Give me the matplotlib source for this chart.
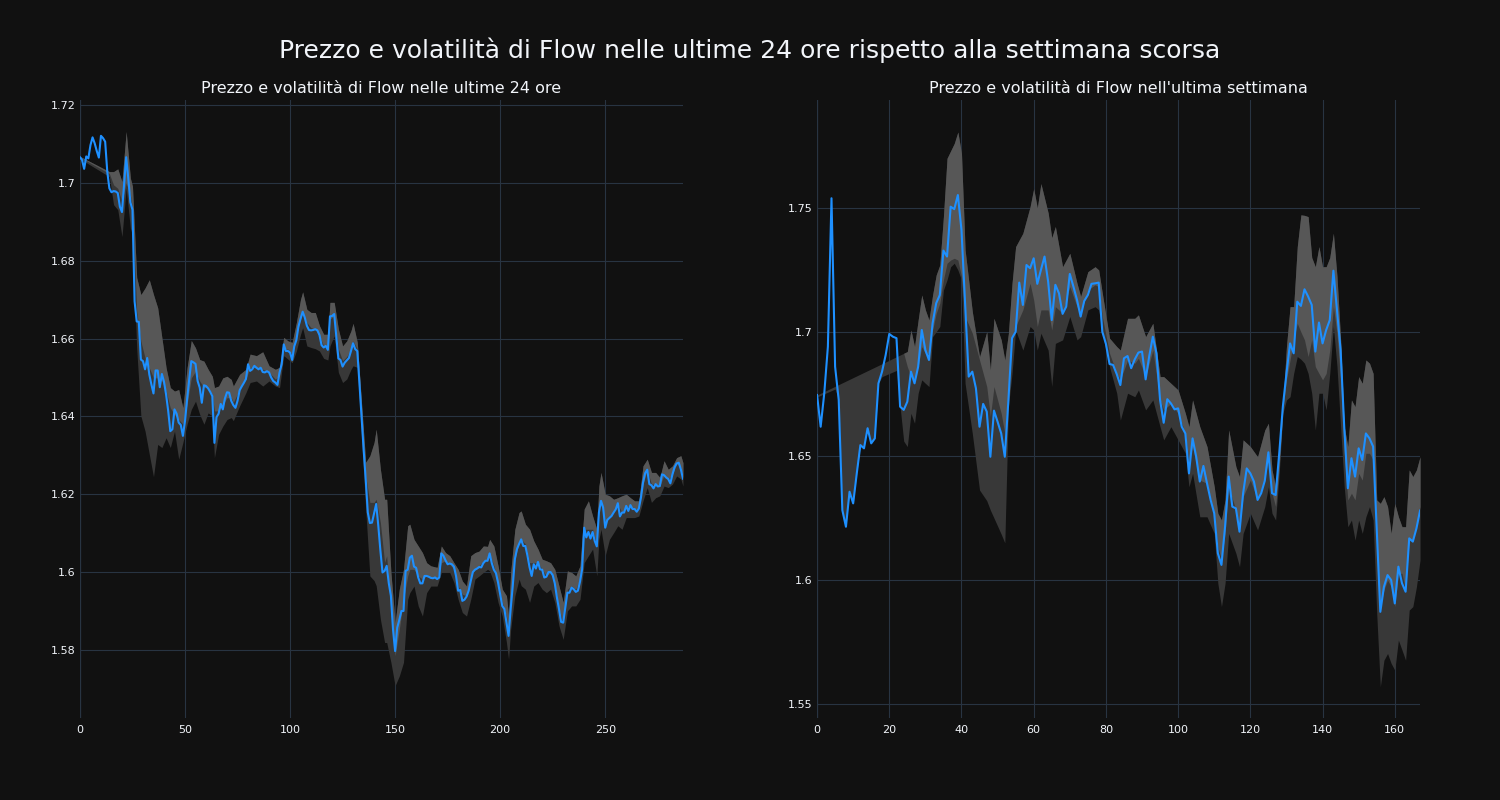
import numpy as np
import matplotlib
matplotlib.use("Agg")
from matplotlib import pyplot as plt
from matplotlib.ticker import FuncFormatter, MultipleLocator

# ---------------------------------------------------------------------------
# Data
# ---------------------------------------------------------------------------

# last 24 hours: one price every 5 minutes (288 points)
left_price = [
    1.7066, 1.7059, 1.7036, 1.7068, 1.7063, 1.7097, 1.7117, 1.7102, 1.7082, 1.7065,
    1.7121, 1.7115, 1.7106, 1.7029, 1.6986, 1.6976, 1.6979, 1.6978, 1.6974, 1.6939,
    1.6925, 1.6995, 1.7066, 1.7012, 1.6950, 1.6931, 1.6696, 1.6644, 1.6643, 1.6546,
    1.6542, 1.6521, 1.6550, 1.6508, 1.6482, 1.6459, 1.6518, 1.6518, 1.6475, 1.6509,
    1.6489, 1.6456, 1.6414, 1.6362, 1.6367, 1.6418, 1.6407, 1.6384, 1.6378, 1.6350,
    1.6388, 1.6444, 1.6495, 1.6542, 1.6539, 1.6535, 1.6491, 1.6474, 1.6435, 1.6480,
    1.6478, 1.6472, 1.6463, 1.6452, 1.6332, 1.6398, 1.6407, 1.6432, 1.6418, 1.6446,
    1.6462, 1.6461, 1.6440, 1.6429, 1.6422, 1.6440, 1.6467, 1.6477, 1.6486, 1.6496,
    1.6534, 1.6517, 1.6521, 1.6530, 1.6525, 1.6521, 1.6525, 1.6514, 1.6513, 1.6516,
    1.6513, 1.6500, 1.6491, 1.6487, 1.6481, 1.6513, 1.6534, 1.6585, 1.6568, 1.6568,
    1.6564, 1.6545, 1.6580, 1.6596, 1.6631, 1.6651, 1.6669, 1.6654, 1.6633, 1.6622,
    1.6621, 1.6622, 1.6624, 1.6621, 1.6609, 1.6583, 1.6577, 1.6581, 1.6571, 1.6657,
    1.6658, 1.6663, 1.6607, 1.6549, 1.6545, 1.6528, 1.6538, 1.6544, 1.6550, 1.6568,
    1.6588, 1.6573, 1.6568, 1.6487, 1.6401, 1.6316, 1.6239, 1.6153, 1.6126, 1.6127,
    1.6151, 1.6175, 1.6119, 1.6055, 1.5999, 1.6003, 1.6016, 1.5971, 1.5939, 1.5853,
    1.5797, 1.5857, 1.5877, 1.5900, 1.5900, 1.6003, 1.6006, 1.6037, 1.6042, 1.6014,
    1.6011, 1.5986, 1.5971, 1.5971, 1.5990, 1.5990, 1.5988, 1.5985, 1.5984, 1.5986,
    1.5982, 1.5986, 1.6048, 1.6042, 1.6030, 1.6020, 1.6022, 1.6020, 1.6014, 1.5990,
    1.5952, 1.5954, 1.5926, 1.5929, 1.5937, 1.5952, 1.5977, 1.6000, 1.6006, 1.6009,
    1.6013, 1.6012, 1.6023, 1.6029, 1.6029, 1.6048, 1.6023, 1.6006, 1.5997, 1.5973,
    1.5943, 1.5913, 1.5905, 1.5870, 1.5836, 1.5905, 1.5965, 1.6033, 1.6059, 1.6072,
    1.6084, 1.6067, 1.6067, 1.6042, 1.6012, 1.5990, 1.6020, 1.6009, 1.6026, 1.6007,
    1.6006, 1.5986, 1.5988, 1.6000, 1.6000, 1.5992, 1.5971, 1.5935, 1.5905, 1.5872,
    1.5870, 1.5909, 1.5947, 1.5947, 1.5960, 1.5956, 1.5949, 1.5952, 1.5975, 1.6007,
    1.6114, 1.6089, 1.6103, 1.6086, 1.6103, 1.6080, 1.6066, 1.6153, 1.6183, 1.6166,
    1.6114, 1.6134, 1.6139, 1.6144, 1.6153, 1.6161, 1.6177, 1.6143, 1.6153, 1.6153,
    1.6170, 1.6157, 1.6172, 1.6162, 1.6162, 1.6155, 1.6163, 1.6191, 1.6230, 1.6254,
    1.6263, 1.6226, 1.6223, 1.6215, 1.6226, 1.6220, 1.6221, 1.6251, 1.6249, 1.6243,
    1.6239, 1.6228, 1.6251, 1.6269, 1.6279, 1.6281, 1.6264, 1.6240,
]

# volatility band (upper / middle / lower) of the 24h chart
left_band_x = [
    0, 14, 16, 18, 20, 22, 24, 25, 27, 29, 31, 33, 35, 37, 39, 41, 43, 45, 47, 49,
    51, 53, 55, 57, 59, 61, 63, 64, 66, 68, 70, 72, 73, 76, 79, 81, 84, 87, 90, 93,
    95, 97, 99, 101, 103, 105, 106, 108, 110, 112, 114, 116, 118, 119, 121, 123, 125, 127, 129, 130,
    132, 134, 136, 138, 140, 141, 143, 145, 146, 148, 150, 152, 154, 156, 157, 159, 161, 163, 165, 167,
    170, 172, 174, 176, 178, 180, 182, 184, 186, 188, 190, 192, 194, 195, 197, 199, 201, 203, 204, 205,
    207, 209, 210, 212, 214, 216, 218, 220, 222, 224, 226, 228, 230, 232, 234, 236, 238, 240, 242, 244,
    246, 247, 248, 250, 252, 254, 256, 258, 260, 262, 264, 266, 268, 270, 272, 274, 276, 278, 280, 282,
    284, 286, 287,
]
left_upper = [
    1.7068, 1.7029, 1.7029, 1.7036, 1.7003, 1.7132, 1.7012, 1.6991, 1.6757, 1.6713,
    1.6730, 1.6751, 1.6713, 1.6679, 1.6602, 1.6525, 1.6474, 1.6465, 1.6469, 1.6422,
    1.6525, 1.6595, 1.6576, 1.6546, 1.6542, 1.6521, 1.6503, 1.6474, 1.6478, 1.6499,
    1.6503, 1.6495, 1.6478, 1.6508, 1.6521, 1.6560, 1.6556, 1.6566, 1.6530, 1.6521,
    1.6526, 1.6603, 1.6594, 1.6590, 1.6641, 1.6701, 1.6720, 1.6675, 1.6667, 1.6667,
    1.6633, 1.6611, 1.6611, 1.6693, 1.6693, 1.6624, 1.6581, 1.6594, 1.6620, 1.6639,
    1.6590, 1.6436, 1.6282, 1.6299, 1.6333, 1.6367, 1.6264, 1.6187, 1.6187, 1.5999,
    1.5870, 1.5956, 1.6007, 1.6119, 1.6123, 1.6084, 1.6067, 1.6050, 1.6024, 1.6016,
    1.6012, 1.6067, 1.6050, 1.6042, 1.6024, 1.6007, 1.5977, 1.5964, 1.6042, 1.6050,
    1.6054, 1.6067, 1.6066, 1.6084, 1.6067, 1.6016, 1.5956, 1.5939, 1.5887, 1.5999,
    1.6110, 1.6153, 1.6157, 1.6123, 1.6110, 1.6080, 1.6059, 1.6033, 1.6029, 1.6024,
    1.6007, 1.5964, 1.5922, 1.6003, 1.5999, 1.5990, 1.6016, 1.6162, 1.6183, 1.6144,
    1.6110, 1.6221, 1.6256, 1.6200, 1.6196, 1.6187, 1.6191, 1.6196, 1.6200, 1.6191,
    1.6183, 1.6183, 1.6273, 1.6290, 1.6256, 1.6256, 1.6243, 1.6286, 1.6264, 1.6273,
    1.6294, 1.6299, 1.6281,
]
left_mid = [
    1.7066, 1.7024, 1.6995, 1.6986, 1.6952, 1.7000, 1.6969, 1.6935, 1.6670, 1.6593,
    1.6550, 1.6525, 1.6499, 1.6499, 1.6491, 1.6465, 1.6422, 1.6405, 1.6392, 1.6380,
    1.6431, 1.6499, 1.6516, 1.6491, 1.6474, 1.6474, 1.6456, 1.6414, 1.6414, 1.6431,
    1.6448, 1.6448, 1.6436, 1.6470, 1.6496, 1.6526, 1.6526, 1.6521, 1.6513, 1.6496,
    1.6504, 1.6573, 1.6573, 1.6560, 1.6607, 1.6650, 1.6667, 1.6641, 1.6628, 1.6624,
    1.6607, 1.6581, 1.6577, 1.6650, 1.6658, 1.6573, 1.6543, 1.6554, 1.6573, 1.6594,
    1.6573, 1.6401, 1.6247, 1.6179, 1.6179, 1.6187, 1.6127, 1.6025, 1.6042, 1.5896,
    1.5785, 1.5853, 1.5930, 1.5990, 1.6007, 1.6007, 1.5990, 1.5982, 1.5990, 1.5986,
    1.5986, 1.6024, 1.6029, 1.6020, 1.6007, 1.5964, 1.5943, 1.5939, 1.5990, 1.6007,
    1.6016, 1.6029, 1.6033, 1.6046, 1.6016, 1.5973, 1.5922, 1.5887, 1.5845, 1.5922,
    1.6033, 1.6076, 1.6084, 1.6072, 1.6024, 1.6024, 1.6024, 1.6007, 1.5990, 1.5999,
    1.5973, 1.5905, 1.5870, 1.5956, 1.5964, 1.5956, 1.5982, 1.6110, 1.6110, 1.6110,
    1.6067, 1.6161, 1.6183, 1.6127, 1.6140, 1.6153, 1.6174, 1.6153, 1.6168, 1.6170,
    1.6162, 1.6163, 1.6226, 1.6263, 1.6226, 1.6226, 1.6221, 1.6249, 1.6239, 1.6251,
    1.6279, 1.6269, 1.6240,
]
left_lower = [
    1.7062, 1.7016, 1.6944, 1.6931, 1.6862, 1.6986, 1.6884, 1.6867, 1.6576, 1.6401,
    1.6362, 1.6303, 1.6245, 1.6328, 1.6320, 1.6345, 1.6320, 1.6362, 1.6290, 1.6333,
    1.6380, 1.6418, 1.6439, 1.6405, 1.6380, 1.6409, 1.6401, 1.6294, 1.6354, 1.6375,
    1.6392, 1.6397, 1.6389, 1.6427, 1.6461, 1.6487, 1.6491, 1.6478, 1.6491, 1.6478,
    1.6474, 1.6556, 1.6547, 1.6538, 1.6568, 1.6611, 1.6628, 1.6581, 1.6577, 1.6574,
    1.6568, 1.6549, 1.6545, 1.6581, 1.6607, 1.6513, 1.6487, 1.6496, 1.6521, 1.6530,
    1.6526, 1.6350, 1.6162, 1.5990, 1.5978, 1.5965, 1.5879, 1.5819, 1.5819, 1.5768,
    1.5708, 1.5733, 1.5768, 1.5930, 1.5947, 1.5964, 1.5913, 1.5887, 1.5947, 1.5964,
    1.5964, 1.5999, 1.5999, 1.5999, 1.5973, 1.5930, 1.5896, 1.5887, 1.5930, 1.5982,
    1.5990, 1.5999, 1.6007, 1.6003, 1.5973, 1.5922, 1.5887, 1.5819, 1.5776, 1.5853,
    1.5939, 1.5982, 1.5965, 1.5956, 1.5922, 1.5964, 1.5973, 1.5956, 1.5947, 1.5956,
    1.5922, 1.5862, 1.5827, 1.5900, 1.5913, 1.5913, 1.5930, 1.6024, 1.6042, 1.6059,
    1.5990, 1.6084, 1.6110, 1.6042, 1.6084, 1.6101, 1.6119, 1.6110, 1.6140, 1.6140,
    1.6140, 1.6144, 1.6183, 1.6217, 1.6179, 1.6191, 1.6196, 1.6221, 1.6217, 1.6226,
    1.6247, 1.6239, 1.6221,
]

# last week: one price every hour (168 points)
right_price = [
    1.6746, 1.6618, 1.6753, 1.6941, 1.7539, 1.6860, 1.6726, 1.6282, 1.6215, 1.6356,
    1.6309, 1.6430, 1.6544, 1.6531, 1.6612, 1.6551, 1.6571, 1.6793, 1.6840, 1.6907,
    1.6992, 1.6981, 1.6975, 1.6699, 1.6686, 1.6719, 1.6840, 1.6793, 1.6860, 1.7008,
    1.6927, 1.6887, 1.7035, 1.7116, 1.7149, 1.7328, 1.7304, 1.7505, 1.7495, 1.7552,
    1.7411, 1.7116, 1.6820, 1.6840, 1.6773, 1.6618, 1.6710, 1.6679, 1.6497, 1.6683,
    1.6638, 1.6591, 1.6497, 1.6726, 1.6975, 1.7001, 1.7199, 1.7109, 1.7270, 1.7257,
    1.7297, 1.7194, 1.7250, 1.7304, 1.7203, 1.7048, 1.7190, 1.7156, 1.7073, 1.7102,
    1.7234, 1.7183, 1.7129, 1.7062, 1.7125, 1.7149, 1.7194, 1.7196, 1.7199, 1.7001,
    1.6952, 1.6871, 1.6867, 1.6830, 1.6786, 1.6894, 1.6903, 1.6854, 1.6890, 1.6917,
    1.6921, 1.6809, 1.6903, 1.6981, 1.6914, 1.6726, 1.6634, 1.6729, 1.6712, 1.6688,
    1.6692, 1.6618, 1.6591, 1.6430, 1.6571, 1.6497, 1.6397, 1.6460, 1.6390, 1.6323,
    1.6269, 1.6108, 1.6061, 1.6215, 1.6417, 1.6296, 1.6289, 1.6195, 1.6350, 1.6450,
    1.6430, 1.6397, 1.6323, 1.6350, 1.6400, 1.6515, 1.6350, 1.6343, 1.6511, 1.6699,
    1.6833, 1.6954, 1.6914, 1.7122, 1.7105, 1.7172, 1.7143, 1.7109, 1.6921, 1.7038,
    1.6954, 1.7008, 1.7048, 1.7247, 1.7089, 1.6927, 1.6618, 1.6370, 1.6491, 1.6417,
    1.6531, 1.6484, 1.6591, 1.6571, 1.6538, 1.6202, 1.5872, 1.5973, 1.6020, 1.6000,
    1.5906, 1.6054, 1.5987, 1.5953, 1.6168, 1.6155, 1.6208, 1.6280,
]

# volatility band (upper / middle / lower) of the weekly chart
right_band_x = [
    0, 5, 6, 7, 8, 9, 10, 11, 12, 13, 14, 15, 16, 17, 18, 22, 23, 24, 25, 26,
    27, 28, 29, 30, 31, 32, 33, 34, 35, 36, 37, 38, 39, 40, 41, 43, 45, 47, 48, 49,
    51, 52, 53, 54, 55, 57, 59, 60, 61, 62, 64, 65, 66, 68, 70, 72, 73, 75, 77, 78,
    79, 81, 83, 84, 86, 88, 89, 91, 93, 95, 96, 98, 100, 102, 103, 104, 106, 108, 110, 111,
    112, 113, 114, 116, 117, 118, 120, 122, 124, 125, 126, 127, 128, 129, 130, 131, 132, 133, 134, 135,
    136, 137, 138, 139, 140, 141, 142, 143, 144, 145, 146, 147, 148, 149, 150, 151, 152, 153, 154, 155,
    156, 157, 158, 159, 160, 161, 162, 163, 164, 165, 166, 167,
]
right_upper = [
    1.6746, 1.6781, 1.6788, 1.6795, 1.6802, 1.6809, 1.6816, 1.6823, 1.6830, 1.6837,
    1.6844, 1.6851, 1.6858, 1.6865, 1.6872, 1.6900, 1.6907, 1.6914, 1.6921, 1.7008,
    1.6941, 1.7048, 1.7149, 1.7089, 1.7048, 1.7149, 1.7230, 1.7270, 1.7465, 1.7700,
    1.7730, 1.7760, 1.7806, 1.7720, 1.7331, 1.7082, 1.6900, 1.7001, 1.6847, 1.7055,
    1.6968, 1.6887, 1.6995, 1.7196, 1.7344, 1.7398, 1.7505, 1.7578, 1.7500, 1.7598,
    1.7480, 1.7380, 1.7425, 1.7263, 1.7317, 1.7196, 1.7143, 1.7243, 1.7263, 1.7250,
    1.7156, 1.6975, 1.6941, 1.6927, 1.7055, 1.7055, 1.7069, 1.6981, 1.7035, 1.6820,
    1.6820, 1.6793, 1.6766, 1.6672, 1.6618, 1.6726, 1.6618, 1.6538, 1.6376, 1.6269,
    1.6242, 1.6323, 1.6605, 1.6457, 1.6417, 1.6565, 1.6538, 1.6497, 1.6605, 1.6632,
    1.6444, 1.6376, 1.6538, 1.6699, 1.6941, 1.7102, 1.7102, 1.7344, 1.7472, 1.7470,
    1.7465, 1.7300, 1.7263, 1.7344, 1.7263, 1.7263, 1.7300, 1.7398, 1.7223, 1.6968,
    1.6618, 1.6538, 1.6726, 1.6699, 1.6820, 1.6793, 1.6887, 1.6874, 1.6833, 1.6323,
    1.6309, 1.6336, 1.6296, 1.6188, 1.6309, 1.6255, 1.6215, 1.6215, 1.6444, 1.6417,
    1.6444, 1.6497,
]
right_mid = [
    1.6746, 1.6781, 1.6788, 1.6795, 1.6802, 1.6809, 1.6816, 1.6823, 1.6830, 1.6837,
    1.6844, 1.6851, 1.6858, 1.6865, 1.6872, 1.6900, 1.6907, 1.6914, 1.6860, 1.6820,
    1.6807, 1.6860, 1.6941, 1.6914, 1.6914, 1.7008, 1.7075, 1.7116, 1.7210, 1.7277,
    1.7290, 1.7297, 1.7290, 1.7223, 1.7062, 1.6995, 1.6887, 1.6780, 1.6659, 1.6780,
    1.6672, 1.6591, 1.6780, 1.6981, 1.7022, 1.7089, 1.7196, 1.7129, 1.7022, 1.7089,
    1.7089, 1.7008, 1.7102, 1.7075, 1.7183, 1.7102, 1.7075, 1.7169, 1.7190, 1.7183,
    1.7062, 1.6914, 1.6833, 1.6807, 1.6887, 1.6874, 1.6894, 1.6820, 1.6927, 1.6726,
    1.6686, 1.6712, 1.6672, 1.6591, 1.6484, 1.6538, 1.6403, 1.6390, 1.6269, 1.6134,
    1.6081, 1.6188, 1.6376, 1.6282, 1.6215, 1.6336, 1.6403, 1.6323, 1.6410, 1.6484,
    1.6350, 1.6296, 1.6457, 1.6686, 1.6807, 1.6887, 1.6968, 1.7035, 1.7000, 1.6968,
    1.6901, 1.6968, 1.6860, 1.6833, 1.6807, 1.6833, 1.6927, 1.7102, 1.6995, 1.6807,
    1.6511, 1.6323, 1.6350, 1.6323, 1.6430, 1.6403, 1.6511, 1.6511, 1.6484, 1.6161,
    1.5893, 1.5960, 1.6000, 1.5973, 1.5893, 1.6027, 1.6027, 1.5960, 1.6161, 1.6161,
    1.6215, 1.6296,
]
right_lower = [
    1.6738, 1.6770, 1.6726, 1.6282, 1.6215, 1.6356, 1.6309, 1.6430, 1.6544, 1.6531,
    1.6612, 1.6551, 1.6571, 1.6793, 1.6820, 1.6845, 1.6699, 1.6560, 1.6538, 1.6672,
    1.6632, 1.6753, 1.6807, 1.6793, 1.6780, 1.6981, 1.7001, 1.7022, 1.7169, 1.7210,
    1.7263, 1.7277, 1.7250, 1.7210, 1.6793, 1.6591, 1.6363, 1.6320, 1.6282, 1.6250,
    1.6185, 1.6150, 1.6699, 1.6833, 1.7008, 1.6927, 1.7022, 1.7008, 1.6927, 1.6995,
    1.6927, 1.6780, 1.6954, 1.6968, 1.7062, 1.6968, 1.6981, 1.7089, 1.7102, 1.7089,
    1.6995, 1.6860, 1.6753, 1.6645, 1.6753, 1.6739, 1.6766, 1.6686, 1.6726, 1.6618,
    1.6565, 1.6618, 1.6565, 1.6511, 1.6376, 1.6430, 1.6255, 1.6255, 1.6188, 1.5987,
    1.5893, 1.5987, 1.6188, 1.6108, 1.6054, 1.6188, 1.6269, 1.6202, 1.6296, 1.6376,
    1.6269, 1.6242, 1.6430, 1.6672, 1.6726, 1.6739, 1.6833, 1.6901, 1.6890, 1.6874,
    1.6833, 1.6753, 1.6605, 1.6753, 1.6753, 1.6686, 1.6833, 1.7022, 1.6860, 1.6618,
    1.6376, 1.6215, 1.6242, 1.6161, 1.6242, 1.6188, 1.6255, 1.6296, 1.6242, 1.5866,
    1.5570, 1.5677, 1.5704, 1.5664, 1.5637, 1.5758, 1.5718, 1.5677, 1.5879, 1.5893,
    1.5973, 1.6081,
]

main_title = "Prezzo e volatilità di Flow nelle ultime 24 ore rispetto alla settimana scorsa"
left_title = "Prezzo e volatilità di Flow nelle ultime 24 ore"
right_title = "Prezzo e volatilità di Flow nell'ultima settimana"

# ---------------------------------------------------------------------------
# Style
# ---------------------------------------------------------------------------
BG = "#111111"
GRID = "#283442"
TEXT = "#f2f5fa"
LINE = "#1e90ff"
BAND_DARK = "#383838"
BAND_LIGHT = "#575757"

plt.rcParams["font.family"] = ["DejaVu Sans"]

fig = plt.figure(figsize=(15, 8), dpi=100, facecolor=BG)
ax_l = fig.add_axes([0.0533, 0.1025, 0.402, 0.7725])
ax_r = fig.add_axes([0.5447, 0.1025, 0.402, 0.7725])


def draw_panel(ax, price, band_x, upper, mid, lower, title, xlim, ylim, xstep, ystep):
    ax.set_facecolor(BG)
    # dark part of the band below the middle, light part above it
    ax.fill_between(band_x, lower, upper, color=BAND_DARK, lw=0, zorder=2)
    ax.fill_between(band_x, mid, upper, color=BAND_LIGHT, lw=0, zorder=3)
    ax.plot(np.arange(len(price)), price, color=LINE, lw=1.5, zorder=4)

    ax.set_xlim(*xlim)
    ax.set_ylim(*ylim)
    ax.xaxis.set_major_locator(MultipleLocator(xstep))
    ax.yaxis.set_major_locator(MultipleLocator(ystep))
    ax.yaxis.set_major_formatter(FuncFormatter(lambda v, _: f"{v:g}"))
    ax.grid(True, color=GRID, lw=0.8, zorder=1)
    ax.set_axisbelow(True)
    ax.axvline(0, color=GRID, lw=1.6, zorder=1)

    for s in ax.spines.values():
        s.set_visible(False)
    ax.tick_params(length=0, colors=TEXT, labelsize=8)
    ax.tick_params(axis="y", pad=3)
    ax.tick_params(axis="x", pad=5)
    ax.set_title(title, color=TEXT, fontsize=11.5, pad=5)


draw_panel(ax_l, left_price, left_band_x, left_upper, left_mid, left_lower,
           left_title, (0, 287), (1.5625, 1.7213), 50, 0.02)
draw_panel(ax_r, right_price, right_band_x, right_upper, right_mid, right_lower,
           right_title, (0, 167), (1.5444, 1.7935), 20, 0.05)

fig.text(0.5, 0.9375, main_title, color=TEXT, fontsize=18, ha="center", va="center")

fig.savefig("out.png", dpi=100, facecolor=BG)
